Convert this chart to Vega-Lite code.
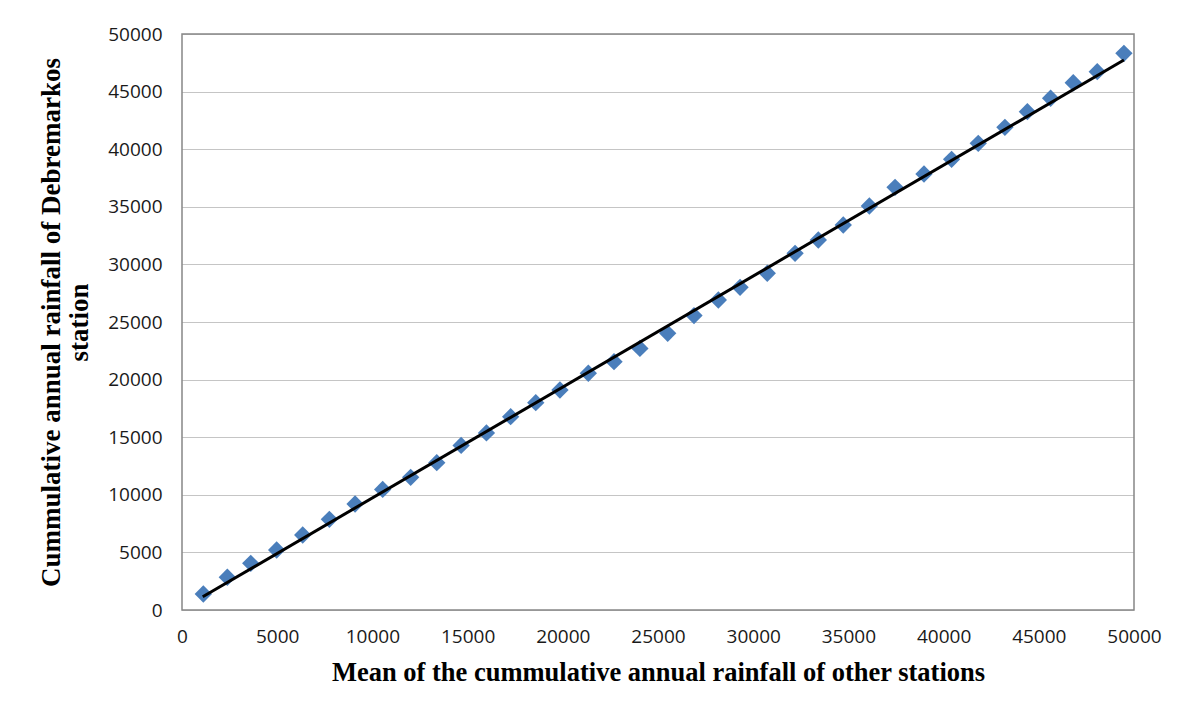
{
  "$schema": "https://vega.github.io/schema/vega-lite/v6.json",
  "width": 952,
  "height": 576,
  "autosize": "none",
  "padding": {"left": 182, "top": 34, "right": 47, "bottom": 101},
  "background": "white",
  "config": {
    "view": {"stroke": "#868686", "strokeWidth": 1.5},
    "axis": {
      "domain": false,
      "ticks": false,
      "labelFlush": false,
      "labelFont": "Open Sans",
      "labelFontSize": 19,
      "labelColor": "#1a1a1a",
      "titleFont": "Liberation Serif",
      "titleFontWeight": "bold",
      "titleColor": "#000000"
    }
  },
  "datasets": {
    "points": [
      {"other": 1120, "debre": 1390},
      {"other": 2380, "debre": 2840},
      {"other": 3610, "debre": 4050},
      {"other": 4970, "debre": 5210},
      {"other": 6340, "debre": 6510},
      {"other": 7740, "debre": 7870},
      {"other": 9090, "debre": 9200},
      {"other": 10540, "debre": 10470},
      {"other": 12010, "debre": 11520},
      {"other": 13380, "debre": 12790},
      {"other": 14660, "debre": 14290},
      {"other": 15990, "debre": 15370},
      {"other": 17260, "debre": 16780},
      {"other": 18580, "debre": 18000},
      {"other": 19850, "debre": 19100},
      {"other": 21340, "debre": 20550},
      {"other": 22690, "debre": 21560},
      {"other": 24050, "debre": 22710},
      {"other": 25510, "debre": 24020},
      {"other": 26890, "debre": 25560},
      {"other": 28170, "debre": 26910},
      {"other": 29310, "debre": 28010},
      {"other": 30740, "debre": 29230},
      {"other": 32200, "debre": 30960},
      {"other": 33420, "debre": 32120},
      {"other": 34730, "debre": 33420},
      {"other": 36100, "debre": 35070},
      {"other": 37450, "debre": 36690},
      {"other": 38970, "debre": 37850},
      {"other": 40420, "debre": 39120},
      {"other": 41820, "debre": 40510},
      {"other": 43220, "debre": 41900},
      {"other": 44400, "debre": 43260},
      {"other": 45620, "debre": 44420},
      {"other": 46810, "debre": 45770},
      {"other": 48070, "debre": 46730},
      {"other": 49470, "debre": 48320}
    ],
    "trend": [
      {"other": 1090, "debre": 1150},
      {"other": 49470, "debre": 47740}
    ]
  },
  "layer": [
    {
      "data": {"name": "points"},
      "mark": {"type": "point", "shape": "diamond", "filled": true, "size": 300, "color": "#4A7EBB", "opacity": 1},
      "encoding": {
        "x": {
          "field": "other", "type": "quantitative",
          "scale": {"domain": [0, 50000], "nice": false},
          "axis": {
            "values": [0, 5000, 10000, 15000, 20000, 25000, 30000, 35000, 40000, 45000, 50000],
            "format": "d",
            "grid": false,
            "labelPadding": 17,
            "title": "Mean of the cummulative annual rainfall of other stations",
            "titleFontSize": 26.5,
            "titlePadding": 13
          }
        },
        "y": {
          "field": "debre", "type": "quantitative",
          "scale": {"domain": [0, 50000], "nice": false},
          "axis": {
            "values": [0, 5000, 10000, 15000, 20000, 25000, 30000, 35000, 40000, 45000, 50000],
            "format": "d",
            "grid": true,
            "gridColor": "#8a8a8a",
            "gridDash": [1, 1],
            "gridWidth": 1,
            "labelPadding": 20,
            "title": ["Cummulative annual rainfall of Debremarkos", "station"],
            "titleFontSize": 27,
            "titleLineHeight": 28,
            "titlePadding": 14
          }
        }
      }
    },
    {
      "data": {"name": "trend"},
      "mark": {"type": "line", "color": "#000000", "strokeWidth": 3},
      "encoding": {
        "x": {"field": "other", "type": "quantitative"},
        "y": {"field": "debre", "type": "quantitative"}
      }
    }
  ]
}
